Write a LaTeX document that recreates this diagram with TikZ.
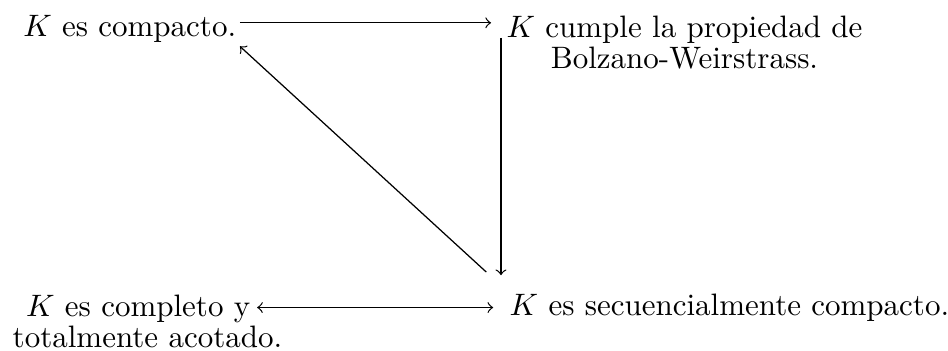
\documentclass[tikz,border=0pt]{standalone}
\usepackage{amsmath}
\usepackage{tikz}

\begin{document}
\begin{tikzpicture}[
  prop/.style={inner sep=1pt},
  prop2/.style={prop, align=center},
  arr/.style={->},
  darr/.style={<->},
]
\useasboundingbox (0,0) rectangle (305.8pt,113.2pt);
\node[prop, anchor=base west] (comp) at (6.3pt,101.4pt) {$K$ es compacto.};
\node[prop2, anchor=north west] (bw) at (162.2pt,109.3pt) {$K$ cumple la propiedad de\\[-2pt] Bolzano-Weirstrass.};
\node[prop2, anchor=north west] (cta) at (2.9pt,19.4pt) {$K$ es completo y\hspace*{6pt}\\[-2pt] totalmente acotado.};
\node[prop, anchor=base west] (sec) at (163.2pt,11.5pt) {$K$ es secuencialmente compacto.};
\draw[arr, shorten >=3.8pt] ([yshift=2pt]comp.east) -- ([yshift=2pt]comp.east -| bw.west);
\draw[arr, shorten <=8.3pt, shorten >=4.8pt] ([xshift=-0.6pt]bw.north west) -- ([xshift=-0.6pt]bw.west |- sec.north);
\draw[darr, shorten >=4.1pt] ([xshift=-9.3pt]cta.east |- sec.west) -- (sec.west);
\draw[arr, shorten <=8.6pt] (sec.north west) -- (comp.south east);
\end{tikzpicture}
\end{document}
